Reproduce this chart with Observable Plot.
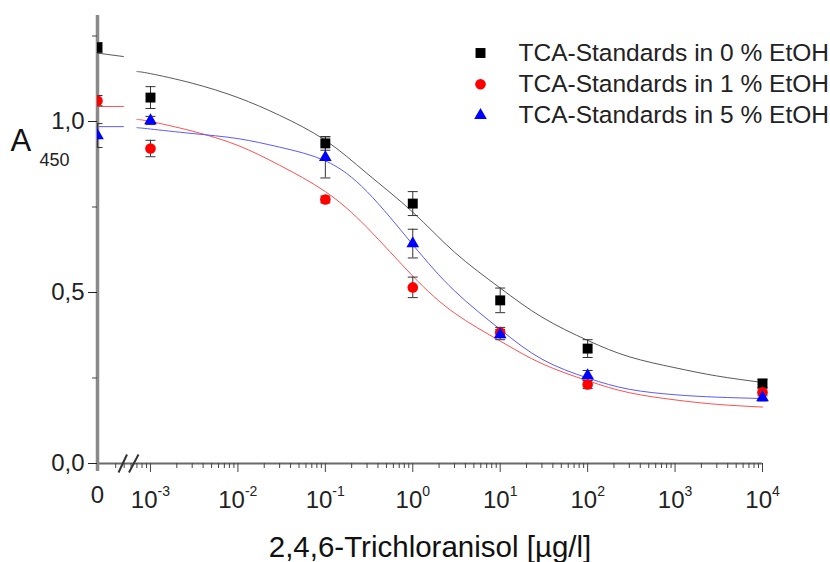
<!DOCTYPE html>
<html>
<head>
<meta charset="utf-8">
<script src="https://cdn.jsdelivr.net/npm/d3@7"></script>
<script src="https://cdn.jsdelivr.net/npm/@observablehq/plot@0.6"></script>
<style>
  body { margin: 0; background: #fff; }
  #chart svg { display: block; }
</style>
</head>
<body>
<div id="chart"></div>
<script>
// TCA standard concentrations in µg/l (0 = blank, shown left of the axis break)
const concentrations = [0, 1e-3, 1e-1, 1, 10, 100, 1e4];

// Mean absorbance at 450 nm and error (half bar length) per standard
const etoh0Values = [1.216, 1.070, 0.936, 0.760, 0.477, 0.336, 0.234];
const etoh0Errors = [0.015, 0.032, 0.020, 0.035, 0.036, 0.026, 0.012];
const etoh1Values = [1.061, 0.921, 0.772, 0.515, 0.383, 0.231, 0.208];
const etoh1Errors = [0.015, 0.024, 0.010, 0.030, 0.015, 0.012, 0.010];
const etoh5Values = [0.959, 1.003, 0.895, 0.643, 0.377, 0.257, 0.193];
const etoh5Errors = [0.035, 0.012, 0.060, 0.042, 0.015, 0.015, 0.010];

// Sigmoidal fit curves, sampled along the log axis
const fitConcentrations = [7e-4, 1e-3, 3e-3, 1e-2, 3e-2, 1e-1, 3e-1, 1, 3, 10, 30, 100, 300, 1e3, 3e3, 1e4];
const fitEtoh0 = [1.146, 1.140, 1.112, 1.070, 1.018, 0.945, 0.848, 0.735, 0.618, 0.513, 0.428, 0.360, 0.312, 0.280, 0.256, 0.237];
const fitEtoh1 = [1.006, 1.000, 0.972, 0.930, 0.872, 0.795, 0.690, 0.548, 0.440, 0.358, 0.292, 0.242, 0.207, 0.186, 0.173, 0.165];
const fitEtoh5 = [0.982, 0.978, 0.965, 0.950, 0.925, 0.885, 0.795, 0.640, 0.505, 0.392, 0.305, 0.250, 0.217, 0.201, 0.194, 0.190];
// Fit value at the blank (start and end of the short segment before the break)
const fitBlankStart = [1.200, 1.044, 0.985];
const fitBlankEnd = [1.190, 1.044, 0.985];

const seriesNames = ["TCA-Standards in 0 % EtOH", "TCA-Standards in 1 % EtOH", "TCA-Standards in 5 % EtOH"];
const seriesColors = ["#000000", "#ff0000", "#0000ff"];
const fitColors = ["#5a5a5a", "#ff5050", "#5a5aff"];
const seriesSymbols = ["square", "circle", "triangle"];
const seriesRadius = [5.6, 5.3, 4.7];

// Axis ticks
const xDecades = [-3, -2, -1, 0, 1, 2, 3, 4];
const yMajorTicks = [0, 0.5, 1.0];
const yMinorTicks = [0.25, 0.75, 1.25];

const xTitle = "2,4,6-Trichloranisol [µg/l]";
const yTitle = "A";
const yTitleSub = "450";

// Position along the broken x axis: log10 for c > 0, a fixed slot for the blank
const ZERO_POS = -3.606;
const BREAK_POS = -3.24;
const BLANK_END = -3.31;
const pos = c => (c === 0 ? ZERO_POS : Math.log10(c));

const valueSets = [etoh0Values, etoh1Values, etoh5Values];
const errorSets = [etoh0Errors, etoh1Errors, etoh5Errors];
const fitSets = [fitEtoh0, fitEtoh1, fitEtoh5];

const points = valueSets.map((vals, s) =>
  concentrations.map((c, j) => ({s, blank: c === 0, x: pos(c), y: vals[j], err: errorSets[s][j]}))
);
const allPoints = points.flat();

const blankCurves = fitSets.map((_, s) => [
  {x: ZERO_POS, y: fitBlankStart[s]},
  {x: BLANK_END, y: fitBlankEnd[s]}
]);
const logCurves = fitSets.map(vals => fitConcentrations.map((c, j) => ({x: pos(c), y: vals[j]})));

// minor ticks 2..9 within each decade, right of the blank slot
const xMinorTicks = [];
for (let d = -4; d < 4; d++) {
  for (let k = 2; k <= 9; k++) {
    const p = d + Math.log10(k);
    if (p > ZERO_POS + 0.1) xMinorTicks.push(p);
  }
}

// custom symbols: error bar caps and the axis break marks
const capSymbol = {
  draw(ctx, size) {
    const r = Math.sqrt(size / Math.PI);
    ctx.moveTo(-r, 0); ctx.lineTo(r, 0);
  }
};
const breakSymbol = {
  draw(ctx, size) {
    const r = Math.sqrt(size / Math.PI);
    ctx.moveTo(-1.1 * r, 0.9 * r); ctx.lineTo(-0.25 * r, -0.9 * r);
    ctx.moveTo(-0.05 * r, 0.9 * r); ctx.lineTo(0.9 * r, -0.9 * r);
  }
};

const FONT = 24;
const negDecades = xDecades.filter(d => d < 0);
const posDecades = xDecades.filter(d => d >= 0);

const marks = [
  // axis lines
  Plot.ruleY([0], {stroke: "#6a6a6a", strokeWidth: 2}),
  Plot.ruleX([ZERO_POS], {stroke: "#8a8a8a", strokeWidth: 3.5, insetBottom: -8}),
  // y ticks and labels
  Plot.axisY(yMajorTicks, {
    anchor: "left", tickSize: 9, tickPadding: 4, fontSize: FONT, label: null,
    tickFormat: d => d.toFixed(1).replace(".", ","), color: "#222"
  }),
  Plot.axisY(yMinorTicks, {anchor: "left", tickSize: 5, tickFormat: () => "", label: null, color: "#444"}),
  // x ticks
  Plot.axisX(xDecades, {anchor: "bottom", tickSize: 9, tickFormat: () => "", label: null, color: "#444"}),
  Plot.axisX(xMinorTicks, {anchor: "bottom", tickSize: 5, tickFormat: () => "", label: null, color: "#444"}),
  // axis break
  Plot.dot([BREAK_POS], {x: d => d, y: () => 0, symbol: breakSymbol, r: 10, stroke: "#333", strokeWidth: 2, fill: "none"}),
  // x tick labels: 0 for the blank, 10^n for the decades
  Plot.text([ZERO_POS], {x: d => d, frameAnchor: "bottom", text: () => "0", dy: 39, lineAnchor: "bottom", fontSize: FONT, fill: "#222"}),
  Plot.text(negDecades, {x: d => d, frameAnchor: "bottom", text: () => "10", textAnchor: "end", dx: 7, dy: 44, lineAnchor: "bottom", fontSize: FONT, fill: "#222"}),
  Plot.text(negDecades, {x: d => d, frameAnchor: "bottom", text: d => String(d), textAnchor: "start", dx: 7, dy: 32, lineAnchor: "bottom", fontSize: 14, fill: "#222"}),
  Plot.text(posDecades, {x: d => d, frameAnchor: "bottom", text: () => "10", textAnchor: "end", dx: 9.5, dy: 44, lineAnchor: "bottom", fontSize: FONT, fill: "#222"}),
  Plot.text(posDecades, {x: d => d, frameAnchor: "bottom", text: d => String(d), textAnchor: "start", dx: 9.5, dy: 32, lineAnchor: "bottom", fontSize: 14, fill: "#222"}),
  // axis titles
  Plot.text([xTitle], {frameAnchor: "bottom", dy: 93, lineAnchor: "bottom", fontSize: 29.5, fill: "#111"}),
  Plot.text([yTitle], {frameAnchor: "top-left", dx: -87, dy: 135, textAnchor: "start", lineAnchor: "bottom", fontSize: 31, fill: "#111"}),
  Plot.text([yTitleSub], {frameAnchor: "top-left", dx: -58, dy: 150, textAnchor: "start", lineAnchor: "bottom", fontSize: 18, fill: "#222"})
];

// fit curves: short flat part at the blank, smooth sigmoid on the log part
fitSets.forEach((_, s) => {
  marks.push(
    Plot.line(blankCurves[s], {x: "x", y: "y", stroke: fitColors[s], strokeWidth: 1}),
    Plot.line(logCurves[s], {x: "x", y: "y", stroke: fitColors[s], strokeWidth: 1, curve: "natural"})
  );
});

// error bars (blank points are clipped at the y axis)
const bars = [allPoints.filter(d => d.blank), allPoints.filter(d => !d.blank)];
bars.forEach((data, i) => {
  const clip = i === 0;
  marks.push(
    Plot.ruleX(data, {x: "x", y1: d => d.y - d.err, y2: d => d.y + d.err, stroke: "#333", strokeWidth: 1, clip}),
    Plot.dot(data, {x: "x", y: d => d.y + d.err, symbol: capSymbol, r: 5, stroke: "#333", strokeWidth: 1, fill: "none", clip}),
    Plot.dot(data, {x: "x", y: d => d.y - d.err, symbol: capSymbol, r: 5, stroke: "#333", strokeWidth: 1, fill: "none", clip})
  );
});

// data points
points.forEach((p, s) => {
  const opts = {x: "x", y: "y", symbol: seriesSymbols[s], r: seriesRadius[s], fill: seriesColors[s], stroke: "none"};
  marks.push(
    Plot.dot(p.filter(d => d.blank), {...opts, clip: true}),
    Plot.dot(p.filter(d => !d.blank), opts)
  );
});

// legend, top right inside the frame
seriesNames.forEach((name, s) => {
  const dy = 37.5 + 31.2 * s;
  marks.push(
    Plot.dot([name], {frameAnchor: "top-right", dx: -282, dy, symbol: seriesSymbols[s], r: seriesRadius[s], fill: seriesColors[s], stroke: "none"}),
    Plot.text([name], {frameAnchor: "top-right", dx: -244, dy, textAnchor: "start", lineAnchor: "middle", fontSize: 24.5, fill: "#222"})
  );
});

const chart = Plot.plot({
  width: 830,
  height: 562,
  marginLeft: 97,
  marginRight: 68,
  marginTop: 15,
  marginBottom: 99,
  style: {fontFamily: "'Liberation Sans', Arial, sans-serif", background: "#fff", color: "#222"},
  x: {type: "linear", domain: [ZERO_POS, 4], label: null, axis: null},
  y: {type: "linear", domain: [0, 1.31], label: null, axis: null},
  marks
});

document.getElementById("chart").append(chart);
</script>
</body>
</html>
